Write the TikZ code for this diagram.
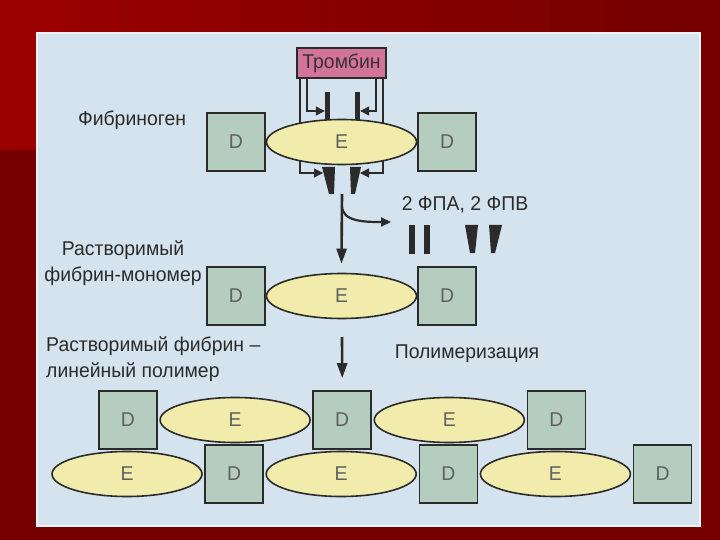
\documentclass[tikz,border=0pt]{standalone}
\usepackage{fontspec}
\setmainfont[FakeStretch=0.97]{Liberation Sans}
\usepackage{xcolor}
\usepackage{tikz}
\usetikzlibrary{shapes.geometric, arrows.meta, positioning, calc}

\definecolor{slidered}{HTML}{740000}
\definecolor{slidelight}{HTML}{9C0000}
\definecolor{paper}{HTML}{D5E3EE}
\definecolor{dgreen}{HTML}{B4CDBF}
\definecolor{eyellow}{HTML}{F1ECAB}
\definecolor{thrpink}{HTML}{D2739A}
\definecolor{ink}{HTML}{2B2B2B}

\begin{document}
\begin{tikzpicture}[
			x=1pt, y=-1pt,
			font=\fontsize{20}{26}\selectfont,
			dbox/.style = {rectangle, draw=ink, line width=1.6pt, fill=dgreen,
					minimum size=58pt, inner sep=0pt, text=ink!75},
			ebox/.style = {ellipse, draw=ink, line width=1.6pt, fill=eyellow,
					minimum width=150pt, minimum height=45pt, inner sep=0pt, text=ink!75},
			thrombox/.style = {rectangle, draw=ink, line width=1.2pt, fill=thrpink,
					minimum width=89pt, minimum height=30pt, inner sep=0pt, text=ink!90!thrpink},
			fpa/.style = {rectangle, fill=ink, minimum width=5pt, minimum height=28pt, inner sep=0pt},
			wedge/.style = {fill=ink},
			label/.style = {text=ink, inner sep=0pt},
			cut/.style = {draw=ink, line width=1.2pt, -{Triangle[length=9pt,width=9pt]}},
			line/.style = {draw=ink, line width=2.6pt, -{Triangle[length=15pt,width=10pt]}},
		]
		\useasboundingbox (0,0) rectangle (720,540);

		% Slide background
		\fill[slidered] (0,0) rectangle (720,540);
		\shade[left color=slidelight, right color=slidered] (0,0) rectangle (720,150);
		\fill[paper] (37,33) rectangle (700,526);
		\draw[white!55!paper, line width=1.5pt] (37,33) rectangle (700,526);

		% Thrombin and fibrinopeptides
		\node [thrombox] (thr) at (341.5,63) {Тромбин};
		\node [fpa] (pa) at (327.5,106) {};
		\node [fpa] (pb) at (357.5,106) {};
		\coordinate (wl) at (323,173);
		\coordinate (wr) at (360,173);

		\path [cut] ([xshift=-34.5pt]thr.south) |- ([yshift=-5pt]pa.west);
		\path [cut] ([xshift=34.5pt]thr.south) |- ([yshift=-5pt]pb.east);
		\path [cut] ([xshift=-41.5pt]thr.south) |- (wl);
		\path [cut] ([xshift=41.5pt]thr.south) |- (wr);

		% Fibrinogen
		\node [ebox] (fe) at (341.5,142) {E};
		\node [dbox, left=0pt of fe] (fd1) {D};
		\node [dbox, right=0pt of fe] (fd2) {D};
		\fill[wedge] (322,167) -- (335,167) -- (334,194) -- (329,194) -- cycle;
		\fill[wedge] (350,167) -- (361,167) -- (355,194) -- (351,194) -- cycle;
		\node [label] (fbg) at (132,120) {Фибриноген};

		% Released peptides
		\node [label] (fpx) at (465,205) {2 ФПА, 2 ФПВ};
		\node [fpa, minimum width=6pt] (fa1) at (411.5,239.5) {};
		\node [fpa, minimum width=6pt] (fa2) at (426.5,239.5) {};
		\fill[wedge] (465,225) -- (478,225) -- (475,253) -- (470,253) -- cycle;
		\fill[wedge] (489,225) -- (502,225) -- (495,253) -- (491,253) -- cycle;

		% Monomer
		\node [ebox] (me) at (341.5,296) {E};
		\node [dbox, left=0pt of me] (md1) {D};
		\node [dbox, right=0pt of me] (md2) {D};
		\node [label, align=center] (mono) at (123,263) {Растворимый\\фибрин-мономер};

		% Cleavage arrows
		\coordinate (cleave) at (342,194);
		\coordinate (split) at (342,206);
		\coordinate (fpout) at (391,222);
		\path [line] (cleave) -- ([yshift=9pt]me.north);
		\draw [ink, line width=2.2pt, -{Triangle[length=10pt,width=9pt]}]
			(split) .. controls (342,222) and (366,222) .. (fpout);

		% Polymer
		\node [label, anchor=west, align=left] (poly) at (46,359) {Растворимый фибрин –\\линейный полимер};
		\node [label] (polym) at (467,354) {Полимеризация};

		\node [dbox] (pd1) at (128,420) {D};
		\node [ebox, right=1.5pt of pd1] (pe1) {E};
		\node [dbox, right=1.5pt of pe1] (pd2) {D};
		\node [ebox, right=1.5pt of pd2] (pe2) {E};
		\node [dbox, right=1.5pt of pe2] (pd3) {D};

		\node [ebox] (qe1) at (127,474) {E};
		\node [dbox, right=1.5pt of qe1] (qd1) {D};
		\node [ebox, right=1.5pt of qd1] (qe2) {E};
		\node [dbox, right=1.5pt of qe2] (qd2) {D};
		\node [ebox, right=1.5pt of qd2] (qe3) {E};
		\node [dbox, right=1.5pt of qe3] (qd3) {D};

		\coordinate (poly0) at (342,337);
		\path [line] (poly0) -- ([yshift=12pt]pd2.north);

	\end{tikzpicture}
\end{document}
